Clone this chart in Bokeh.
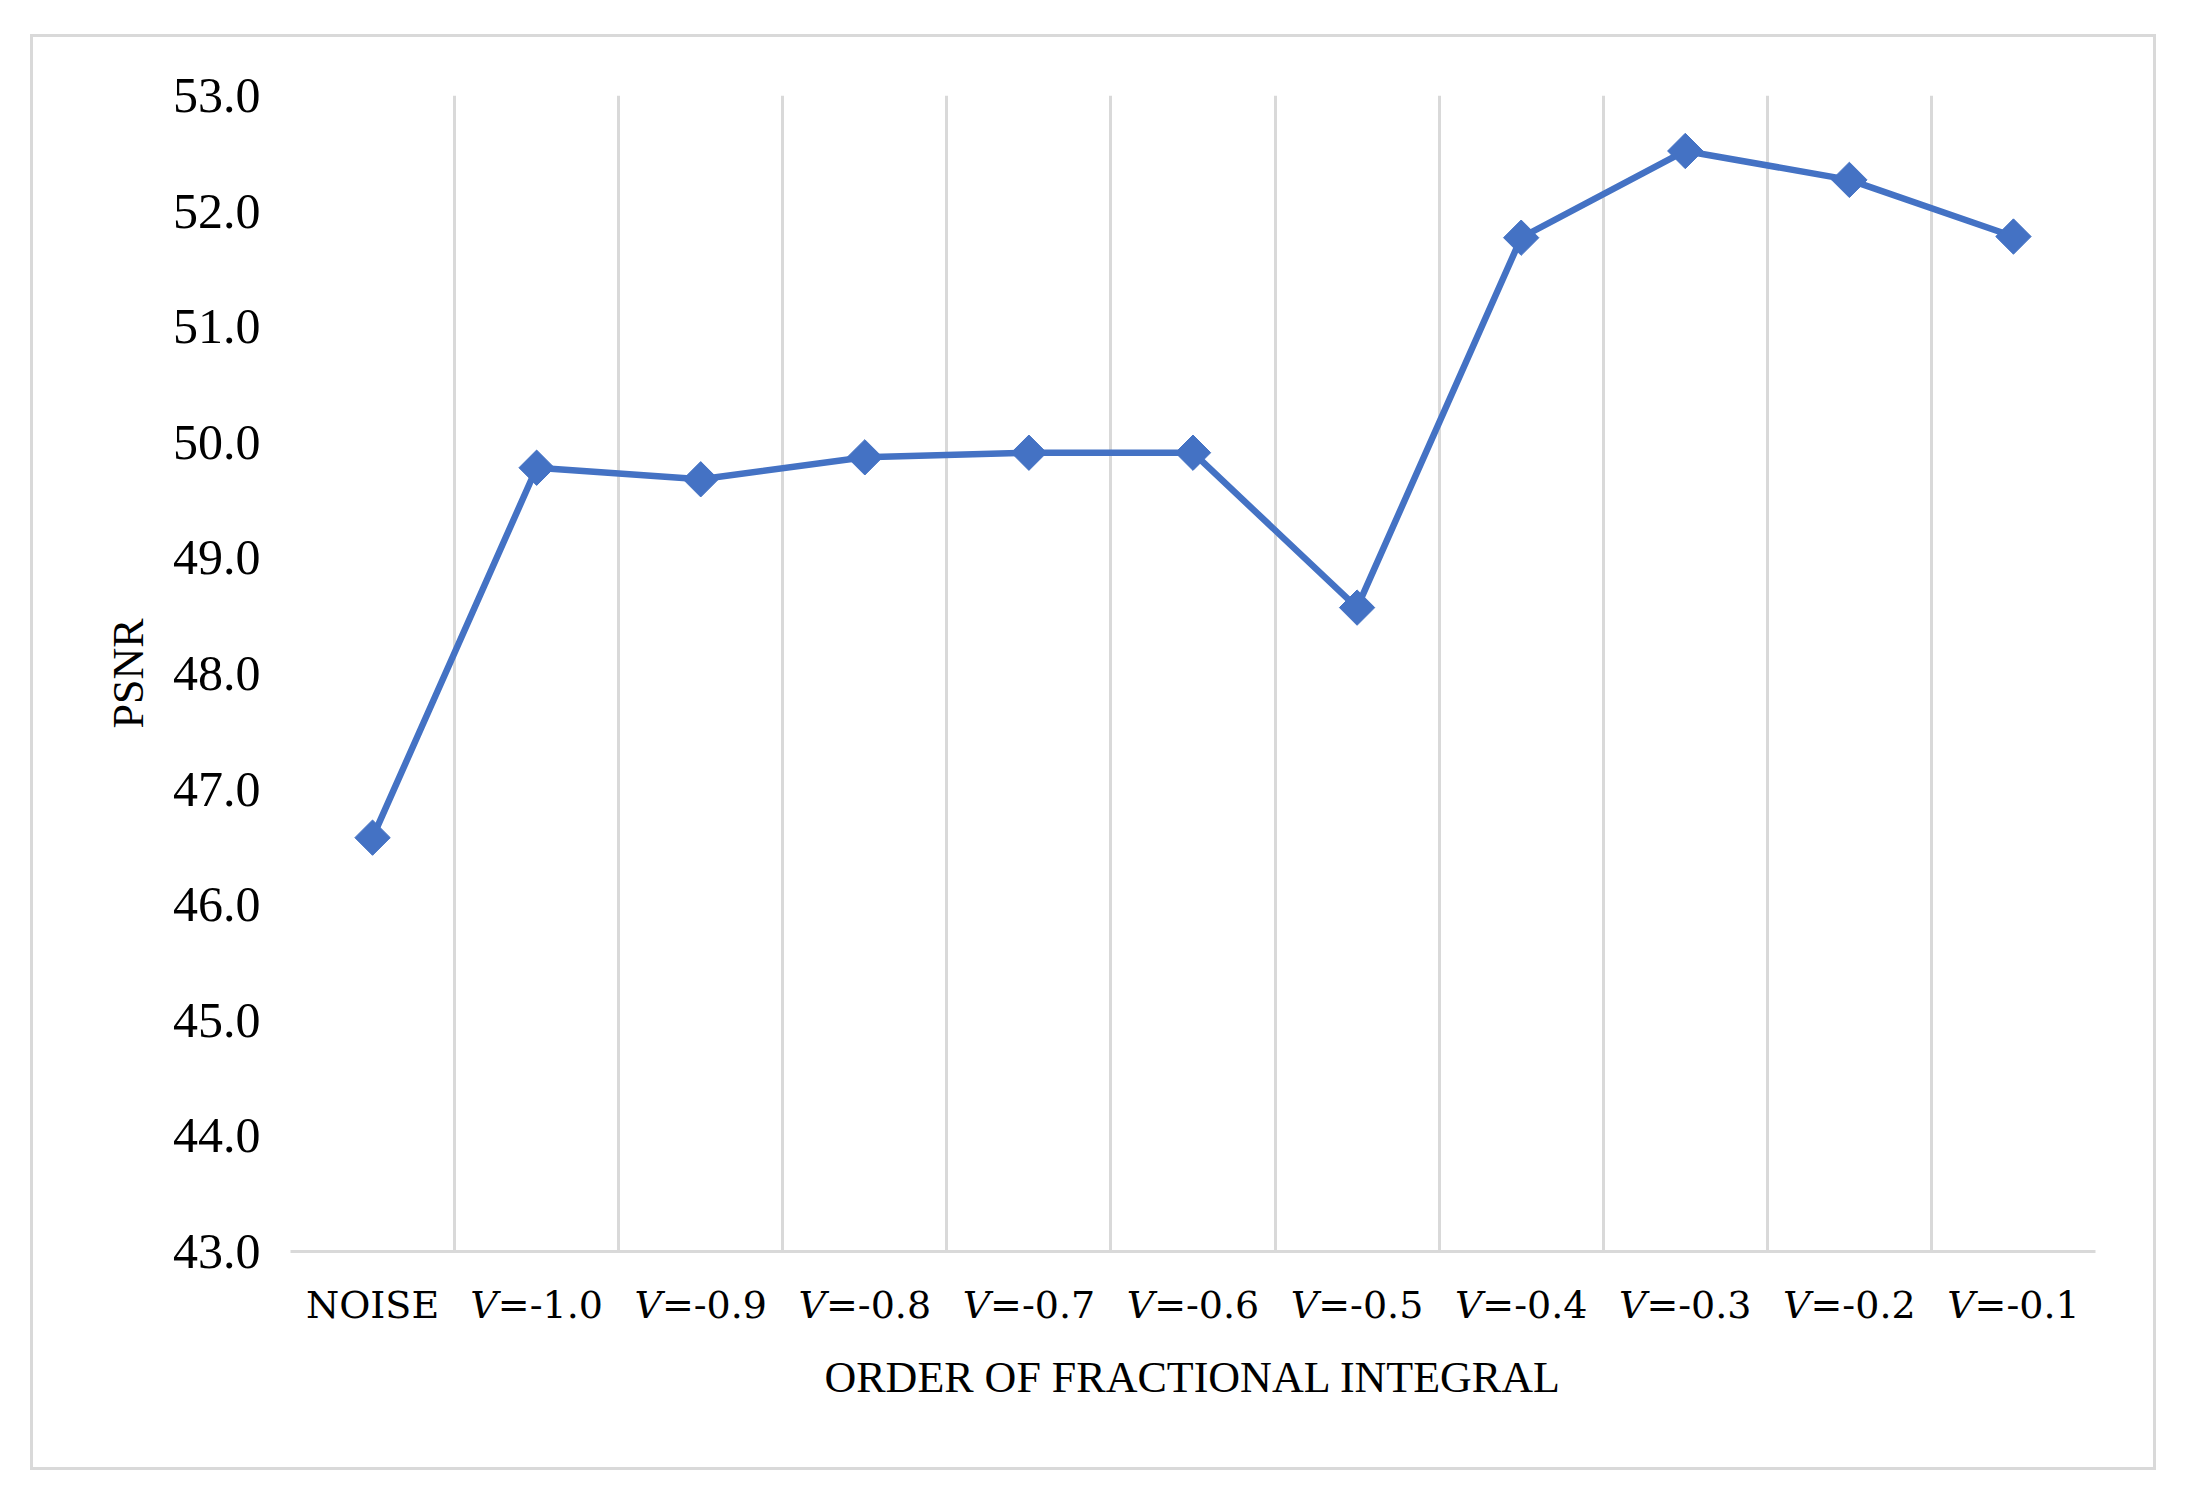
import math
from bokeh.plotting import figure
from bokeh.models import FixedTicker, Range1d, ColumnDataSource, NumeralTickFormatter
from bokeh.embed import file_html
from bokeh.resources import INLINE

# ---- data ----
categories = ["NOISE", "𝑉=-1.0", "𝑉=-0.9", "𝑉=-0.8", "𝑉=-0.7", "𝑉=-0.6",
              "𝑉=-0.5", "𝑉=-0.4", "𝑉=-0.3", "𝑉=-0.2", "𝑉=-0.1"]
psnr = [46.58, 49.78, 49.68, 49.87, 49.91, 49.91, 48.57, 51.77, 52.52, 52.27, 51.78]
y_ticks = [43.0, 44.0, 45.0, 46.0, 47.0, 48.0, 49.0, 50.0, 51.0, 52.0, 53.0]
x_title = "ORDER OF FRACTIONAL INTEGRAL"
y_title = "PSNR"

idx = list(range(1, len(categories) + 1))
source = ColumnDataSource(data=dict(x=idx, y=psnr, cat=categories))

GRID = "#d9d9d9"
BLUE = "#4472C4"

p = figure(width=2120, height=1430,
           x_range=Range1d(0.5, len(categories) + 0.5),
           y_range=Range1d(y_ticks[0], y_ticks[-1]),
           output_backend="svg", toolbar_location=None,
           min_border_left=257, min_border_right=58,
           min_border_top=58, min_border_bottom=216)
p.margin = (37, 0, 0, 33)
p.styles = {"outline": "3px solid #d9d9d9"}
p.outline_line_color = None
p.background_fill_color = "white"
p.border_fill_color = "white"

# x axis
p.xaxis.ticker = FixedTicker(ticks=idx)
p.xaxis.major_label_overrides = {i: c for i, c in zip(idx, categories)}
p.xaxis.axis_line_color = GRID
p.xaxis.axis_line_width = 3
p.xaxis.major_tick_line_color = None
p.xaxis.minor_tick_line_color = None
p.xaxis.major_label_text_font = "DejaVu Serif"
p.xaxis.major_label_text_font_size = "38px"
p.xaxis.major_label_text_color = "#000000"
p.xaxis.major_label_standoff = 25
p.xaxis.axis_label = x_title
p.xaxis.axis_label_text_font = "Liberation Serif"
p.xaxis.axis_label_text_font_style = "normal"
p.xaxis.axis_label_text_font_size = "44px"
p.xaxis.axis_label_text_color = "#000000"
p.xaxis.axis_label_standoff = 23

# y axis
p.yaxis.ticker = FixedTicker(ticks=y_ticks)
p.yaxis.formatter = NumeralTickFormatter(format="0.0")
p.yaxis.axis_line_color = None
p.yaxis.major_tick_line_color = None
p.yaxis.minor_tick_line_color = None
p.yaxis.major_label_text_font = "Liberation Serif"
p.yaxis.major_label_text_font_size = "50px"
p.yaxis.major_label_text_color = "#000000"
p.yaxis.major_label_standoff = 24
p.yaxis.axis_label = y_title
p.yaxis.axis_label_text_font = "Liberation Serif"
p.yaxis.axis_label_text_font_style = "normal"
p.yaxis.axis_label_text_font_size = "44px"
p.yaxis.axis_label_text_color = "#000000"
p.yaxis.axis_label_standoff = 17

# grid: vertical lines between categories only
p.xgrid.ticker = FixedTicker(ticks=[i - 0.5 for i in idx] + [len(idx) + 0.5])
p.xgrid.grid_line_color = GRID
p.xgrid.grid_line_width = 3
p.ygrid.visible = False

p.line(x="x", y="y", source=source, line_color=BLUE, line_width=6.5)
p.scatter(x="x", y="y", source=source, marker="square", size=25,
          angle=math.pi / 4, fill_color=BLUE, line_color=BLUE)

open("out.html", "w").write(file_html(p, INLINE))
